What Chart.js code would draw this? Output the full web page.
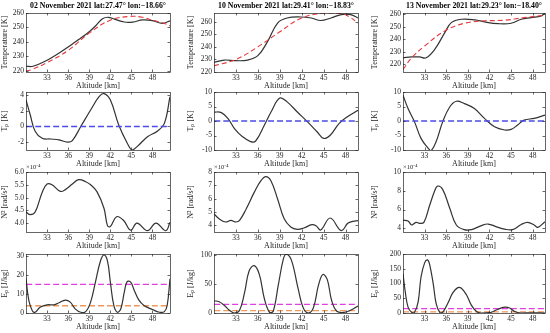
<!DOCTYPE html>
<html>
<head>
<meta charset="utf-8">
<script src="https://cdn.jsdelivr.net/npm/chart.js@4.4.1/dist/chart.umd.min.js"></script>
<style>
  body { margin: 0; background: #fff; width: 550px; height: 333px; position: relative; overflow: hidden; }
  canvas { position: absolute; }
</style>
</head>
<body>
<script>
// ---- data ----
const titles = ['02 November 2021 lat:27.47° lon:−18.66°', '10 November 2021 lat:29.41° lon:−18.83°', '13 November 2021 lat:29.23° lon:−18.40°'];
const altTicks = [33, 36, 39, 42, 45, 48];
const altMax = [50.5, 49.7, 49.7];

// temperature: observed (black) and background (red dashed)
const tAlt1 = [30, 31, 33, 34.5, 36, 37.5, 39, 40, 40.9, 41.7, 42.6, 44, 45.2, 46.6, 48, 49.4, 50.5];
const tObs1 = [223, 223, 227.2, 231.5, 236.4, 241.5, 247, 251.5, 256, 257, 255.7, 253.7, 253.7, 255.2, 254.7, 252.8, 254.5];
const bAlt1 = [30, 31, 33, 36, 39, 42, 44.8, 46.6, 48, 49.5, 50.5];
const tBg1 = [219.5, 221, 225.5, 234, 246, 255, 257.6, 257, 255, 253, 251];

const tAlt2 = [30, 31.4, 33, 34.6, 36, 37.3, 38.7, 40, 41.9, 43.3, 44.6, 46, 47.4, 48.7, 49.7];
const tObs2 = [227.6, 229.5, 229, 229.5, 233, 244, 259, 263, 263.8, 263, 261, 263, 265.7, 265.7, 263];
const bAlt2 = [30, 33, 36, 39, 42, 45.2, 47.4, 48.5, 49.7];
const tBg2 = [225, 230, 240, 252, 263, 267, 266.5, 264, 259];

const tAlt3 = [30, 31.2, 32.3, 33.2, 34.4, 35.8, 36.7, 38.1, 40, 41.3, 43.2, 45, 46.4, 47.8, 49.2, 49.7];
const tObs3 = [225.3, 226, 226, 225.3, 232, 245.3, 253.3, 256, 255.5, 253.9, 252.5, 252.8, 256, 257.3, 258.7, 261];
const bAlt3 = [30, 31.2, 33, 35.8, 38.5, 41.3, 44.1, 46.8, 49.7];
const tBg3 = [216, 225.3, 234.7, 246.7, 252.8, 254.7, 255.2, 257.3, 259.2];

// temperature perturbation Tp [K]
const pAlt1 = [30, 30.6, 31.3, 32.3, 33.5, 34.7, 35.9, 36.6, 37.8, 39.2, 40.4, 41.1, 42, 43.2, 44.4, 45.1, 45.9, 47.3, 48.7, 49.7, 50.5];
const tp1 = [3.4, 1.5, -0.6, -1.5, -1.6, -1.7, -2.0, -1.8, 0, 2.1, 3.8, 4.2, 3.4, 0.2, -2.1, -3, -2.5, -1.3, -0.6, 0.4, 3.8];
const pAlt2 = [30, 31, 31.9, 32.8, 33.9, 35, 35.7, 36.9, 37.8, 39, 40, 41.4, 42.8, 44.1, 45, 45.9, 47.1, 48.2, 49.7];
const tp2 = [3.1, 2.9, 0.9, -2.6, -5.4, -7.1, -6.9, -1.4, 3.1, 7.9, 6.6, 3.1, -0.3, -3.7, -6, -4.9, -0.9, 1.4, 3.7];
const pAlt3 = [30, 30.7, 31.6, 32.5, 33.5, 33.9, 34.6, 35.5, 36.5, 37.4, 38.5, 39.9, 41.3, 42.7, 44.1, 45, 45.9, 46.8, 48.2, 49.7];
const tp3 = [8.9, 4.3, -0.3, -6, -9.4, -10.2, -7.1, -0.3, 4.9, 6.8, 6, 4.3, 0.9, -2, -3.1, -2.9, -1.4, 0.3, 0.9, 2];
const tpZero = [0, 0];

// N^2 (x 1e-4 rad/s^2)
const nAlt1 = [30, 30.6, 31.3, 32.3, 33, 33.7, 34.9, 35.6, 36.6, 37.5, 38.5, 39.2, 40.1, 41.1, 41.6, 42, 42.9, 43.9, 44.9, 45.8, 47.3, 48.5, 49.9, 50.5];
const n2_1 = [4.43, 4.33, 4.43, 5.2, 5.53, 5.5, 5.24, 5.31, 5.53, 5.7, 5.62, 5.5, 5.23, 4.58, 3.9, 3.86, 4.25, 4.1, 3.72, 4.0, 3.7, 4.0, 3.7, 4.03];
const nAlt2 = [30, 30.7, 31.6, 32.3, 33, 33.5, 34.4, 35.5, 36.4, 37.1, 37.8, 38.7, 39.6, 40.5, 41.4, 42.3, 43.4, 44.0, 44.6, 45.9, 47.4, 48.3, 49.0, 49.7];
const n2_2 = [4.86, 4.49, 4.25, 4.37, 4.25, 4.37, 5.23, 6.47, 7.33, 7.65, 7.33, 5.98, 4.49, 3.88, 3.7, 3.8, 4.05, 3.95, 3.65, 4.55, 3.6, 4.15, 4.3, 4.35];
const nAlt3 = [30, 30.7, 31.2, 31.8, 32.3, 32.9, 33.7, 34.4, 34.8, 35.5, 36.5, 37.4, 38.5, 39.5, 40.8, 41.8, 42.9, 44.1, 45.2, 46.4, 47.3, 48.2, 48.7, 49.7];
const n2_3 = [4.87, 4.77, 4.35, 4.63, 4.52, 4.63, 6.45, 8.0, 8.5, 8.15, 6.1, 4.35, 3.85, 3.85, 4.26, 4.45, 4.18, 3.9, 3.85, 4.4, 4.63, 4.35, 4.1, 4.7];

// potential energy Ep [J/kg] and the two reference levels
const eAlt1 = [30, 30.4, 30.9, 31.3, 32, 33, 34, 34.7, 35.6, 36.3, 37, 37.8, 38.5, 39.2, 39.9, 40.6, 41.1, 41.6, 42, 42.5, 43, 43.5, 44, 44.4, 44.9, 45.4, 46.1, 46.8, 48, 49, 49.7, 50.1, 50.5];
const ep1 = [18.2, 6.6, 1.2, 0.4, 3, 4.3, 4.3, 5.4, 6.8, 5.7, 2.2, 0.4, 0.7, 5.7, 16.5, 27.3, 30.5, 27.3, 16.5, 4, 0.4, 2.2, 11.1, 16.5, 16.2, 12, 6.6, 4, 1.8, 0.4, 0.7, 4, 18];
const eAlt2 = [30, 30.7, 31.4, 32.1, 32.8, 33.5, 34.2, 34.8, 35.5, 36.2, 36.9, 37.6, 38.1, 38.8, 39.5, 39.9, 40.6, 41.5, 42.2, 42.9, 43.6, 44.3, 44.9, 45.5, 46.1, 46.8, 47.8, 48.9, 49.7];
const ep2 = [21.2, 19.4, 13.3, 4.8, 0, 4.8, 36.4, 72.7, 81.8, 66.7, 24.2, 1.2, 3, 48.5, 93.9, 101.8, 90.9, 42.4, 9.1, 0, 9.1, 48.5, 66.7, 57.6, 21.2, 3, 1.2, 6.1, 12.1];
const eAlt3 = [30, 30.3, 30.7, 31.2, 31.6, 32.1, 32.5, 33, 33.4, 33.7, 34.2, 34.6, 35.1, 35.5, 36.2, 36.9, 37.6, 38.1, 38.8, 39.5, 40.2, 40.8, 42.2, 43.1, 44.1, 44.8, 45.5, 46.4, 48, 49.7];
const ep3 = [134, 74, 20, 2.4, 2.4, 38, 122, 170, 180, 164, 98, 32, 2.4, 2.4, 32, 68, 86, 84, 62, 26, 5, 0, 2.4, 12, 20, 17, 5, 0, 0.5, 0];
const epHigh = [15, 15, 15];
const epLow = [3.8, 4, 4];

const tempTicks = [220, 230, 240, 250, 260];
const tpTicks = [[-2, 0, 2, 4], [-10, -5, 0, 5, 10], [-10, -5, 0, 5, 10]];
const n2Ticks = [[4, 4.5, 5, 5.5, 6], [4, 5, 6, 7, 8], [4, 6, 8, 10]];
const epTicks = [[0, 10, 20, 30], [0, 50, 100], [0, 50, 100, 150, 200]];

// ---- layout ----
const FONT = '"Liberation Serif", "Times New Roman", serif';
const INK = '#262626';
const cols = [
  { left: 26, right: 170, axisW: 26 },
  { left: 214, right: 358, axisW: 28 },
  { left: 403, right: 545, axisW: 33 }
];
const rows = [
  { top: 13, bottom: 72 },
  { top: 92, bottom: 150 },
  { top: 172, bottom: 232 },
  { top: 254, bottom: 313 }
];

// MATLAB-like box with inward ticks on all four sides
const framePlugin = {
  id: 'frame',
  afterDraw(chart, args, opts) {
    const { ctx, chartArea: a, scales: { x, y } } = chart;
    ctx.save();
    ctx.strokeStyle = INK;
    ctx.lineWidth = 0.7;
    ctx.strokeRect(Math.round(a.left) + 0.5, Math.round(a.top) + 0.5, Math.round(a.width), Math.round(a.height));
    ctx.beginPath();
    x.ticks.forEach(t => {
      const px = Math.round(x.getPixelForValue(t.value)) + 0.5;
      ctx.moveTo(px, a.bottom); ctx.lineTo(px, a.bottom - 2.5);
      ctx.moveTo(px, a.top); ctx.lineTo(px, a.top + 2.5);
    });
    y.ticks.forEach(t => {
      const py = Math.round(y.getPixelForValue(t.value)) + 0.5;
      ctx.moveTo(a.left, py); ctx.lineTo(a.left + 2.5, py);
      ctx.moveTo(a.right, py); ctx.lineTo(a.right - 2.5, py);
    });
    ctx.stroke();
    if (opts.exponent) {
      ctx.fillStyle = INK;
      ctx.font = '6.5px ' + FONT;
      ctx.textBaseline = 'bottom';
      ctx.fillText(opts.exponent, a.left, a.top - 1);
    }
    ctx.restore();
  }
};

function pts(xs, ys) {
  return xs.map((x, i) => ({ x, y: ys[i] }));
}

function curve(xs, ys, color, width, dash) {
  return {
    data: pts(xs, ys), borderColor: color, borderWidth: width, borderDash: dash || [],
    tension: 0.4, pointRadius: 0, fill: false
  };
}

function makePanel(r, c, spec) {
  const col = cols[c], row = rows[r];
  const padTop = r === 0 ? 0 : 8;
  const canvasTop = row.top - (r === 0 ? 13 : padTop);
  const w = col.axisW + (col.right - col.left) + 5;
  const h = row.bottom - canvasTop + 20;
  const cv = document.createElement('canvas');
  cv.width = w;
  cv.height = h;
  cv.style.left = (col.left - col.axisW) + 'px';
  cv.style.top = canvasTop + 'px';
  cv.style.width = w + 'px';
  cv.style.height = h + 'px';
  document.body.appendChild(cv);

  new Chart(cv, {
    type: 'line',
    data: { datasets: spec.datasets },
    options: {
      responsive: false,
      animation: false,
      devicePixelRatio: 1,
      layout: { padding: { top: padTop, right: 5, left: 0, bottom: 0 } },
      plugins: {
        legend: { display: false },
        tooltip: { enabled: false },
        title: {
          display: r === 0,
          fullSize: false,
          text: titles[c],
          color: '#000',
          font: { family: FONT, size: 7.8, weight: 'bold' },
          padding: { top: 1.6, bottom: 2 }
        },
        frame: { exponent: spec.exponent }
      },
      scales: {
        x: {
          type: 'linear', min: 30, max: altMax[c],
          afterBuildTicks: s => { s.ticks = altTicks.map(v => ({ value: v })); },
          afterFit: s => { s.height = 20; },
          grid: { display: false, drawTicks: false },
          border: { display: false },
          ticks: { color: INK, font: { family: FONT, size: 7.5 }, padding: 2, maxRotation: 0, autoSkip: false },
          title: { display: true, text: 'Altitude [km]', color: INK, font: { family: FONT, size: 8 }, padding: { top: 0, bottom: 1 } }
        },
        y: {
          type: 'linear', min: spec.yMin, max: spec.yMax,
          afterBuildTicks: s => { s.ticks = spec.yTicks.map(v => ({ value: v })); },
          afterFit: s => { s.width = col.axisW; },
          grid: { display: false, drawTicks: false },
          border: { display: false },
          ticks: { color: INK, font: { family: FONT, size: 7.5 }, padding: 2, autoSkip: false },
          title: { display: true, text: spec.yLabel, color: INK, font: { family: FONT, size: 8 }, padding: { top: 0, bottom: 1 } }
        }
      }
    },
    plugins: [framePlugin]
  });
}

const BLACK = '#333333';
const RED = '#e8383c';
const BLUE = '#4c4ce8';
const MAGENTA = '#e040e0';
const ORANGE = '#f0985a';

const tAlts = [tAlt1, tAlt2, tAlt3], tObs = [tObs1, tObs2, tObs3];
const bAlts = [bAlt1, bAlt2, bAlt3], tBgs = [tBg1, tBg2, tBg3];
const pAlts = [pAlt1, pAlt2, pAlt3], tps = [tp1, tp2, tp3];
const nAlts = [nAlt1, nAlt2, nAlt3], n2s = [n2_1, n2_2, n2_3];
const eAlts = [eAlt1, eAlt2, eAlt3], eps = [ep1, ep2, ep3];
const tRange = [[219, 260], [220, 267], [214, 261]];
const tpRange = [[-3, 4.4], [-10, 10], [-10, 10]];
const n2Range = [[3.65, 6], [3.5, 8], [3.6, 10]];
const epRange = [[0, 31], [0, 102], [0, 200]];

for (let c = 0; c < 3; c++) {
  const edge = [30, altMax[c]];
  makePanel(0, c, {
    yMin: tRange[c][0], yMax: tRange[c][1], yTicks: tempTicks, yLabel: 'Temperature [K]',
    datasets: [
      curve(bAlts[c], tBgs[c], RED, 1.1, [5, 3]),
      curve(tAlts[c], tObs[c], BLACK, 1.2)
    ]
  });
  makePanel(1, c, {
    yMin: tpRange[c][0], yMax: tpRange[c][1], yTicks: tpTicks[c], yLabel: 'Tₚ [K]',
    datasets: [
      curve(edge, tpZero, BLUE, 1.4, [6, 3]),
      curve(pAlts[c], tps[c], BLACK, 1.2)
    ]
  });
  makePanel(2, c, {
    yMin: n2Range[c][0], yMax: n2Range[c][1], yTicks: n2Ticks[c], yLabel: 'N² [rad/s²]',
    exponent: '×10⁻⁴',
    datasets: [curve(nAlts[c], n2s[c], BLACK, 1.2)]
  });
  makePanel(3, c, {
    yMin: epRange[c][0], yMax: epRange[c][1], yTicks: epTicks[c], yLabel: 'Eₚ [J/kg]',
    datasets: [
      curve(eAlts[c], eps[c], BLACK, 1.2),
      curve(edge, [epHigh[c], epHigh[c]], MAGENTA, 1.2, [6, 3]),
      curve(edge, [epLow[c], epLow[c]], ORANGE, 1.3, [6, 3])
    ]
  });
}
</script>
</body>
</html>
